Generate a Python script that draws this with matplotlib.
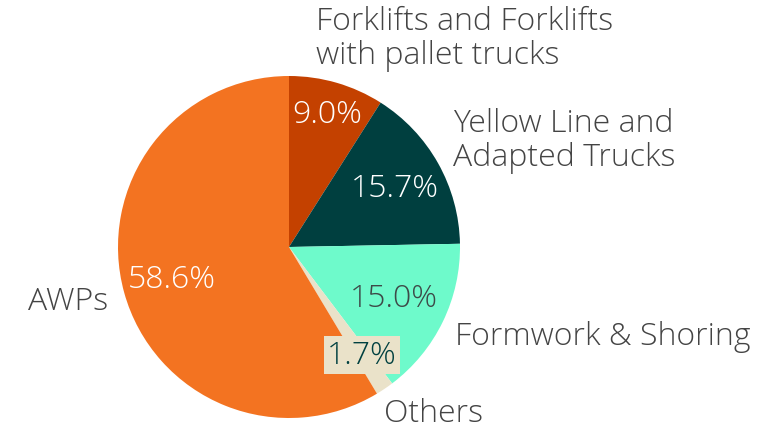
import matplotlib
matplotlib.use("Agg")
import matplotlib.pyplot as plt
import numpy as np

categories = ["Forklifts and Forklifts\nwith pallet trucks", "Yellow Line and\nAdapted Trucks",
              "Formwork & Shoring", "Others", "AWPs"]
values = [9.0, 15.7, 15.0, 1.7, 58.6]
colors = ["#C44100", "#003F3F", "#6EFACB", "#EAE2C9", "#F37321"]
pct_colors = ["white", "white", "#3D4A48", "#004040", "white"]
pct_radius = [0.81, 0.71, 0.68, 0.76, 0.71]

FONT = ["Open Sans", "DejaVu Sans"]
FS = 23
W, H = 774, 431
fig = plt.figure(figsize=(W / 100, H / 100), dpi=100)
ax = fig.add_axes([0, 0, 1, 1])

cx, cy, R = 289, H - 248, 171
wedges, _ = ax.pie(values, colors=colors, startangle=90, counterclock=False,
                   center=(cx, cy), radius=R, frame=True)
ax.set_xlim(0, W)
ax.set_ylim(0, H)
ax.set_aspect("equal")
ax.axis("off")

for w, v, c, r in zip(wedges, values, pct_colors, pct_radius):
    ang = np.deg2rad((w.theta1 + w.theta2) / 2)
    x = cx + R * r * np.cos(ang)
    y = cy + R * r * np.sin(ang)
    kw = {}
    if v < 5:
        kw["bbox"] = dict(boxstyle="square,pad=0.1", fc="#EAE2C9", ec="none")
    ax.text(x, y, f"{v:.1f}%", color=c, fontsize=FS, family=FONT, fontweight="light",
            ha="center", va="center", **kw)

label_pos = [(316, H - 39, "left"), (453, H - 141, "left"), (455, H - 337, "left"),
             (384, H - 414, "left"), (108, H - 302, "right")]
for lab, (x, y, ha) in zip(categories, label_pos):
    ax.text(x, y, lab, color="#444444", fontsize=FS, family=FONT, fontweight="light",
            ha=ha, va="center", linespacing=1.12)

fig.savefig("out.png", dpi=100)
